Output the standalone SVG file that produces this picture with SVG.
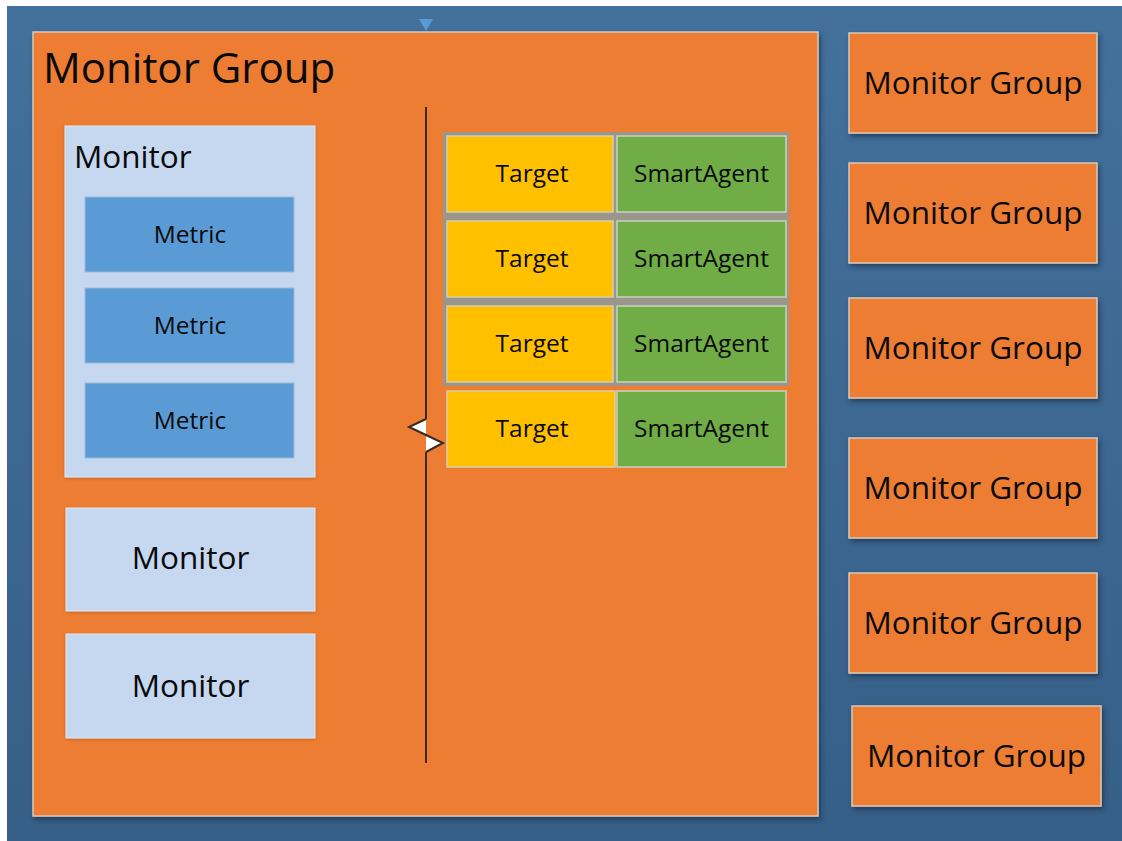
<svg xmlns="http://www.w3.org/2000/svg" width="1122" height="841" viewBox="0 0 1122 841">
  <defs>
    <linearGradient id="bgGrad" x1="0" y1="0" x2="0" y2="1">
      <stop offset="0" stop-color="#43719c"/>
      <stop offset="1" stop-color="#365f87"/>
    </linearGradient>
    <filter id="shadow" x="-10%" y="-10%" width="120%" height="120%">
      <feDropShadow dx="2" dy="3" stdDeviation="2.5" flood-color="#1b2f45" flood-opacity="0.7"/>
    </filter>
    <filter id="soft" x="-10%" y="-10%" width="120%" height="120%">
      <feDropShadow dx="0" dy="1" stdDeviation="1.5" flood-color="#8a4a1a" flood-opacity="0.45"/>
    </filter>
    <style>
      .lbl { font-family: "Open Sans", "Noto Sans", "DejaVu Sans", sans-serif; fill: #0a0a0a; }
      .group { fill: #ed7d31; stroke: #d6c9bd; stroke-width: 1.5; }
      .monitor { fill: #c5d8f0; stroke: #dfe7f2; stroke-width: 1; }
      .metric { fill: #5b9bd5; stroke: #9fb9d6; stroke-width: 1; }
      .target { fill: #ffc000; stroke: #d8cfa8; stroke-width: 1.5; }
      .agent { fill: #70ad47; stroke: #c9d2bd; stroke-width: 1.5; }
      .big { font-size: 42px; }
      .mg { font-size: 31.5px; text-anchor: middle; }
      .mon { font-size: 31.5px; }
      .sm { font-size: 24.5px; text-anchor: middle; }
      .line { stroke: #3b2a1f; stroke-width: 2; fill: none; }
    </style>
  </defs>

  <!-- page background -->
  <rect x="0" y="0" width="1122" height="841" fill="#ffffff"/>
  <rect x="7" y="6" width="1115" height="835" fill="url(#bgGrad)"/>

  <!-- main monitor group -->
  <g id="main-group">
    <rect class="group" x="33" y="32" width="785" height="784" filter="url(#shadow)"/>
    <text class="lbl big" x="43" y="83">Monitor Group</text>
  </g>

  <!-- entry marker on top edge -->
  <polygon points="419,19 433,19 426,31" fill="#5b9bd5"/>

  <!-- monitor with metrics -->
  <g id="monitor-1">
    <rect class="monitor" x="65" y="126" width="250" height="351" filter="url(#soft)"/>
    <text class="lbl mon" x="74" y="168">Monitor</text>
  </g>
  <g id="metric-1">
    <rect class="metric" x="85" y="197" width="209" height="75"/>
    <text class="lbl sm" x="190" y="243">Metric</text>
  </g>
  <g id="metric-2">
    <rect class="metric" x="85" y="288" width="209" height="75"/>
    <text class="lbl sm" x="190" y="334">Metric</text>
  </g>
  <g id="metric-3">
    <rect class="metric" x="85" y="383" width="209" height="75"/>
    <text class="lbl sm" x="190" y="429">Metric</text>
  </g>

  <g id="monitor-2">
    <rect class="monitor" x="66" y="508" width="249" height="103" filter="url(#soft)"/>
    <text class="lbl mon" x="190.5" y="569" text-anchor="middle">Monitor</text>
  </g>
  <g id="monitor-3">
    <rect class="monitor" x="66" y="634" width="249" height="104" filter="url(#soft)"/>
    <text class="lbl mon" x="190.5" y="697" text-anchor="middle">Monitor</text>
  </g>

  <!-- target / agent table frame -->
  <rect x="443" y="132" width="346" height="254" fill="#9b968c"/>

  <g id="row-1">
    <rect class="target" x="447" y="136" width="166" height="76"/>
    <text class="lbl sm" x="532" y="182">Target</text>
    <rect class="agent" x="617" y="136" width="169" height="76"/>
    <text class="lbl sm" x="701.5" y="182">SmartAgent</text>
  </g>
  <g id="row-2">
    <rect class="target" x="447" y="221" width="166" height="76"/>
    <text class="lbl sm" x="532" y="267">Target</text>
    <rect class="agent" x="617" y="221" width="169" height="76"/>
    <text class="lbl sm" x="701.5" y="267">SmartAgent</text>
  </g>
  <g id="row-3">
    <rect class="target" x="447" y="306" width="166" height="76"/>
    <text class="lbl sm" x="532" y="352">Target</text>
    <rect class="agent" x="617" y="306" width="169" height="76"/>
    <text class="lbl sm" x="701.5" y="352">SmartAgent</text>
  </g>
  <g id="row-4">
    <rect class="target" x="447" y="391" width="168" height="76"/>
    <text class="lbl sm" x="532" y="437">Target</text>
    <rect class="agent" x="617" y="391" width="169" height="76"/>
    <text class="lbl sm" x="701.5" y="437">SmartAgent</text>
  </g>

  <!-- divider with break mark -->
  <g id="connectors">
    <line class="line" x1="426" y1="107" x2="426" y2="419"/>
    <line class="line" x1="426" y1="452" x2="426" y2="763"/>
    <polygon points="426,419 409,427 426,435 443,443 426,452" fill="#ffffff" stroke="none"/>
    <polyline class="line" points="426,419 409,427 426,435 443,443 426,452" stroke-width="1.5"/>
  </g>

  <!-- other monitor groups -->
  <g id="group-2">
    <rect class="group" x="849" y="33" width="248" height="100" filter="url(#shadow)"/>
    <text class="lbl mg" x="973" y="94">Monitor Group</text>
  </g>
  <g id="group-3">
    <rect class="group" x="849" y="163" width="248" height="100" filter="url(#shadow)"/>
    <text class="lbl mg" x="973" y="224">Monitor Group</text>
  </g>
  <g id="group-4">
    <rect class="group" x="849" y="298" width="248" height="100" filter="url(#shadow)"/>
    <text class="lbl mg" x="973" y="359">Monitor Group</text>
  </g>
  <g id="group-5">
    <rect class="group" x="849" y="438" width="248" height="100" filter="url(#shadow)"/>
    <text class="lbl mg" x="973" y="499">Monitor Group</text>
  </g>
  <g id="group-6">
    <rect class="group" x="849" y="573" width="248" height="100" filter="url(#shadow)"/>
    <text class="lbl mg" x="973" y="634">Monitor Group</text>
  </g>
  <g id="group-7">
    <rect class="group" x="852" y="706" width="249" height="100" filter="url(#shadow)"/>
    <text class="lbl mg" x="976.5" y="767">Monitor Group</text>
  </g>
</svg>
